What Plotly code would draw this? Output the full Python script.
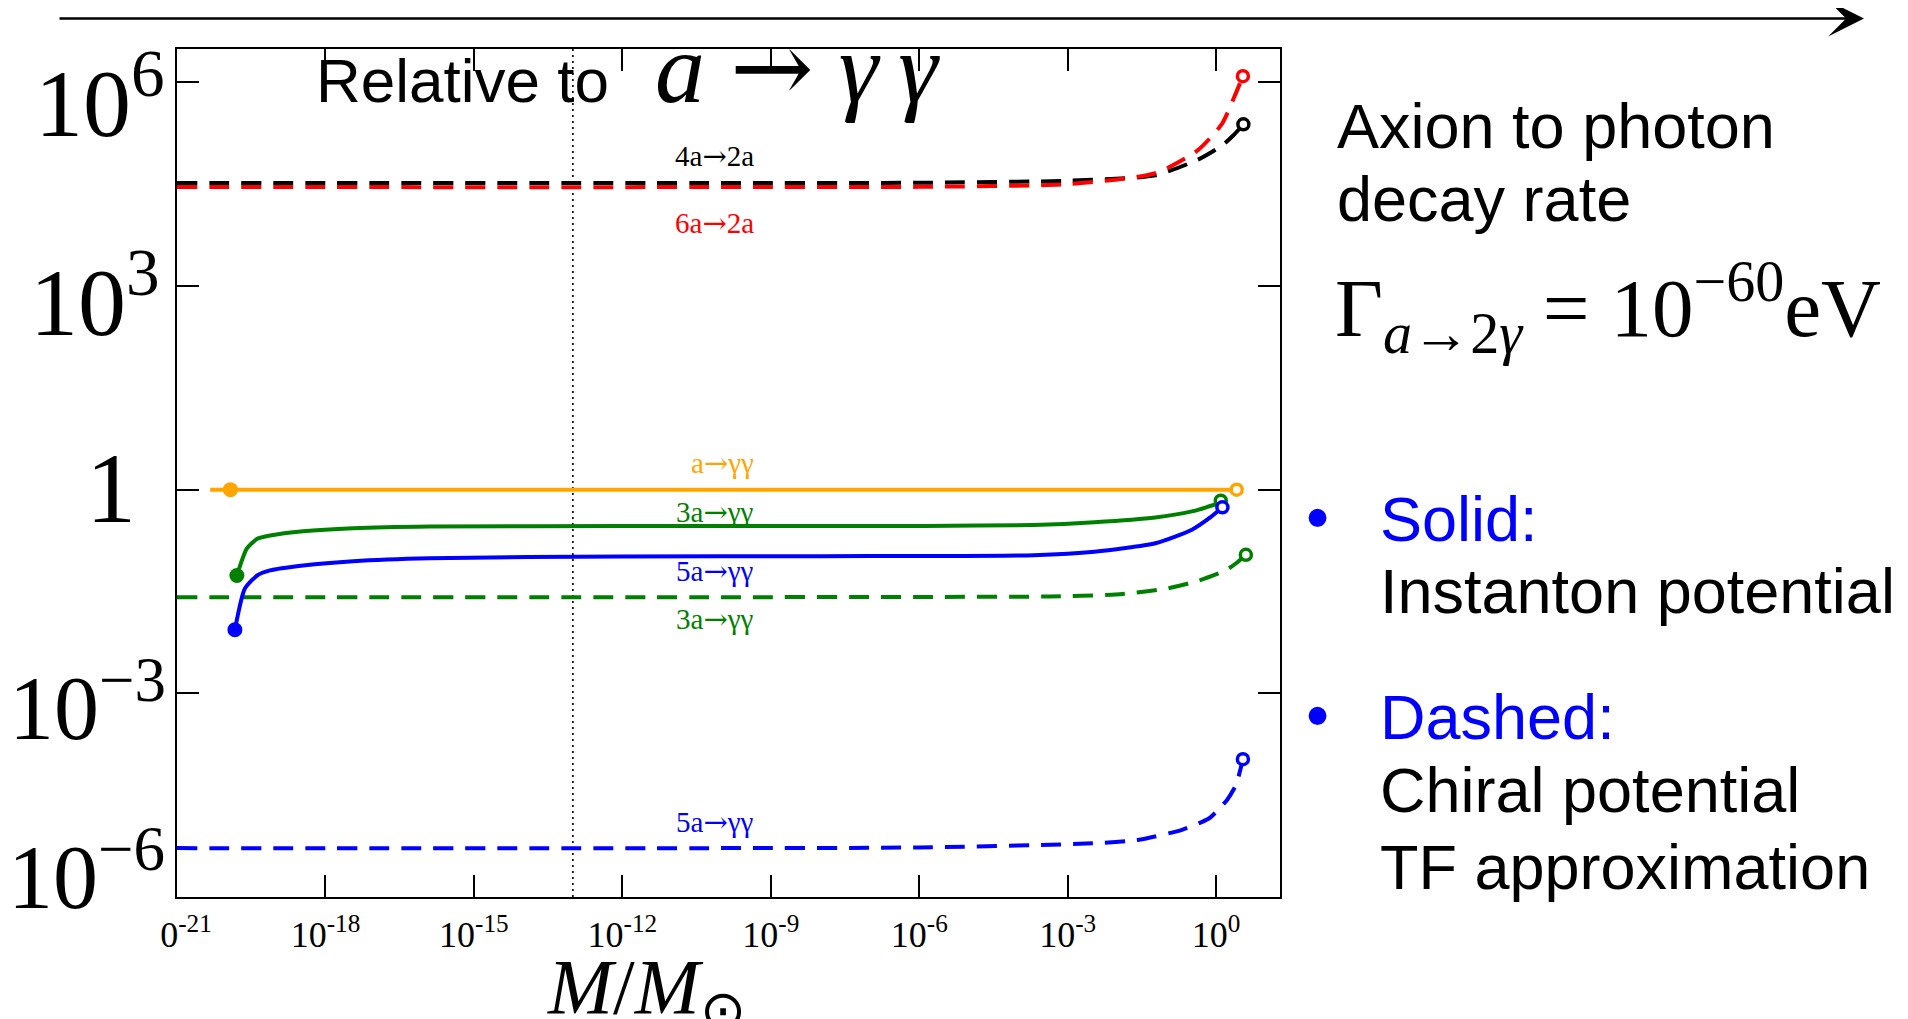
import plotly.graph_objects as go

# ---------------- data (log10 M/Msun, log10 rate relative to a->gg) ----------------
orange_lx = [-20.33, -19.92, -15.0, -10.0, -5.0, 0.415]
orange_ly = [0.0, 0.0, 0.0, 0.0, 0.0, 0.0]

green_solid_lx = [-19.79, -19.59, -19.38, -19.12, -18.45, -17.44, -15.89, -12.0, -8.0, -5.9, -3.69, -2.46, -1.23, -0.49, -0.2, 0.0, 0.093]
green_solid_ly = [-1.265, -0.87, -0.725, -0.676, -0.613, -0.569, -0.544, -0.535, -0.535, -0.535, -0.52, -0.48, -0.41, -0.32, -0.26, -0.21, -0.162]

blue_solid_lx = [-19.83, -19.63, -19.38, -19.12, -18.45, -17.44, -15.89, -12.0, -8.0, -5.9, -3.69, -2.46, -1.23, -0.49, -0.12, 0.126]
blue_solid_ly = [-2.063, -1.46, -1.265, -1.19, -1.118, -1.054, -1.01, -0.985, -0.98, -0.978, -0.965, -0.914, -0.79, -0.59, -0.41, -0.26]

green_dash_lx = [-21.0, -10.0, -6.0, -3.37, -2.03, -1.02, -0.346, 0.19, 0.43, 0.60]
green_dash_ly = [-1.584, -1.584, -1.58, -1.574, -1.544, -1.46, -1.338, -1.19, -1.07, -0.96]

blue_dash_lx = [-21.0, -10.0, -6.0, -2.5, -1.59, -0.69, -0.14, 0.22, 0.40, 0.54]
blue_dash_ly = [-5.28, -5.28, -5.27, -5.21, -5.16, -5.01, -4.84, -4.57, -4.35, -3.97]

black_dash_lx = [-21.0, -10.0, -6.0, -2.95, -1.23, -0.37, 0.12, 0.35, 0.55]
black_dash_ly = [4.515, 4.515, 4.52, 4.55, 4.63, 4.86, 5.07, 5.22, 5.38]

red_dash_lx = [-21.0, -10.0, -6.0, -3.0, -1.23, -0.37, 0.12, 0.37, 0.54]
red_dash_ly = [4.456, 4.456, 4.46, 4.50, 4.66, 5.0, 5.39, 5.79, 6.09]

dotted_lx = -13.0

y_tick_exp = [6, 3, 0, -3, -6]
y_tick_text = ["10<sup>6</sup>", "10<sup>3</sup>", "1", "10<sup>\u22123</sup>", "10<sup>\u22126</sup>"]
x_tick_exp = [-21, -18, -15, -12, -9, -6, -3, 0]
x_tick_text = ["\u20020<sup>-21</sup>", "10<sup>-18</sup>", "10<sup>-15</sup>", "10<sup>-12</sup>",
               "10<sup>-9</sup>", "10<sup>-6</sup>", "10<sup>-3</sup>", "10<sup>0</sup>"]

curve_labels = ["4a\u21922a", "6a\u21922a", "a\u2192\u03b3\u03b3", "3a\u2192\u03b3\u03b3",
                "5a\u2192\u03b3\u03b3", "3a\u2192\u03b3\u03b3", "5a\u2192\u03b3\u03b3"]
curve_label_ly = [4.91, 3.93, 0.39, -0.33, -1.20, -1.90, -4.90]

# ---------------- styling ----------------
W, H = 1908, 1019
BODY = 8                       # default page margin of the html body
PL, PT, PW, PH = 177, 49, 1103, 848   # plot area on the page
L, T = PL - BODY, PT - BODY
R, B = W - L - PW, H - T - PH
ORANGE, GREEN, BLUE, RED, BLACK = "#FFA500", "#008000", "#0000FF", "#FF0000", "#000000"
SERIF = "Liberation Serif"
SANS = "Liberation Sans"
LW = 4
DASH = "20px,12px"
WIDE = "<span style='font-family:DejaVu Serif'>{}</span>"


def px(x):
    return (x - PL) / PW


def py(y):
    return (PT + PH - y) / PH


def tolin(v):
    return [10 ** a for a in v]


fig = go.Figure()


def add_line(lx, ly, color, dash=None, spline=False):
    fig.add_trace(go.Scatter(x=tolin(lx), y=tolin(ly), mode="lines",
                             line=dict(color=color, width=LW, dash=dash or "solid",
                                       shape="spline" if spline else "linear",
                                       smoothing=0.6 if spline else None),
                             hoverinfo="skip", showlegend=False))


def add_ring(lx, ly, color):
    fig.add_trace(go.Scatter(x=tolin([lx]), y=tolin([ly]), mode="markers",
                             marker=dict(size=11, color="white", line=dict(color=color, width=3.5)),
                             hoverinfo="skip", showlegend=False))


def add_dot(lx, ly, color):
    fig.add_trace(go.Scatter(x=tolin([lx]), y=tolin([ly]), mode="markers",
                             marker=dict(size=15, color=color, line=dict(width=0)),
                             hoverinfo="skip", showlegend=False))


# dotted vertical line
fig.add_trace(go.Scatter(x=tolin([dotted_lx, dotted_lx]), y=[1e-6, 10 ** 6.49], mode="lines",
                         line=dict(color="black", width=1.6, dash="2px,4px"),
                         hoverinfo="skip", showlegend=False))

# dashed (chiral) curves
add_line(green_dash_lx, green_dash_ly, GREEN, DASH, True)
add_line(blue_dash_lx, blue_dash_ly, BLUE, DASH, True)
add_line(black_dash_lx, black_dash_ly, BLACK, DASH, True)
add_line(red_dash_lx, red_dash_ly, RED, DASH, True)

# solid (instanton) curves
add_line(orange_lx, orange_ly, ORANGE)
add_line(green_solid_lx, green_solid_ly, GREEN, None, True)
add_line(blue_solid_lx, blue_solid_ly, BLUE, None, True)

# start dots
add_dot(orange_lx[1], orange_ly[1], ORANGE)
add_dot(green_solid_lx[0], green_solid_ly[0], GREEN)
add_dot(blue_solid_lx[0], blue_solid_ly[0], BLUE)

# end rings
add_ring(orange_lx[-1], orange_ly[-1], ORANGE)
add_ring(green_solid_lx[-1], green_solid_ly[-1], GREEN)
add_ring(blue_solid_lx[-1], blue_solid_ly[-1], BLUE)
add_ring(green_dash_lx[-1], green_dash_ly[-1], GREEN)
add_ring(blue_dash_lx[-1], blue_dash_ly[-1], BLUE)
add_ring(black_dash_lx[-1], black_dash_ly[-1], BLACK)
add_ring(red_dash_lx[-1], red_dash_ly[-1], RED)

annotations = []

# curve labels (arrow drawn with a wider serif glyph)
label_colors = [BLACK, RED, ORANGE, GREEN, BLUE, GREEN, BLUE]
for txt, ly, c in zip(curve_labels, curve_label_ly, label_colors):
    styled = txt.replace("\u2192", WIDE.format("\u2192"))
    annotations.append(dict(x=-9.3, y=ly, xref="x", yref="y", text=styled, showarrow=False,
                            xanchor="right", yanchor="middle",
                            font=dict(family=SERIF, size=29, color=c)))

# y tick labels (large LaTeX style)
y_label_right = [167, 162, 138, 168, 167]
y_label_shift = [-14, -10, 1, -8, 27]
y_label_size = [96, 96, 100, 90, 90]
for e, t, xr, ys, sz in zip(y_tick_exp, y_tick_text, y_label_right, y_label_shift, y_label_size):
    annotations.append(dict(x=px(xr), y=e, xref="paper", yref="y", text=t, showarrow=False,
                            xanchor="right", yanchor="middle", yshift=ys,
                            font=dict(family=SERIF, size=sz, color="black")))

# x axis title
annotations.append(dict(x=px(646), y=py(992), xref="paper", yref="paper",
                        text="<i>M</i>/<i>M</i><sub>\u2299</sub>", showarrow=False,
                        xanchor="center", yanchor="middle",
                        font=dict(family=SERIF, size=78, color="black")))

# title inside plot
annotations.append(dict(x=px(314), y=py(80), xref="paper", yref="paper", text="Relative to",
                        showarrow=False, xanchor="left", yanchor="middle",
                        font=dict(family=SANS, size=62, color="black")))
annotations.append(dict(x=px(653), y=py(68), xref="paper", yref="paper",
                        text="<i>a</i> " + WIDE.format("\u2192") + " <i>\u03b3\u2009\u03b3</i>",
                        showarrow=False, xanchor="left", yanchor="middle",
                        font=dict(family=SERIF, size=100, color="black")))

# right-side text
side = [
    ("Axion to photon", 1335, 125.6, SANS, 63, BLACK),
    ("decay rate", 1335, 198.9, SANS, 63, BLACK),
    ("\u0393<sub><i>a</i>\u21922<i>\u03b3</i></sub> = 10<sup>\u221260</sup>eV", 1333, 307.7, SERIF, 83, BLACK),
    ("\u2022", 1304, 517, SANS, 66, BLUE),
    ("Solid:", 1378, 518.5, SANS, 63, BLUE),
    ("Instanton potential", 1378, 591.5, SANS, 63, BLACK),
    ("\u2022", 1304, 715, SANS, 66, BLUE),
    ("Dashed:", 1378, 716.5, SANS, 63, BLUE),
    ("Chiral potential", 1378, 790.2, SANS, 63, BLACK),
    ("TF approximation", 1378, 866.5, SANS, 63, BLACK),
]
for txt, xx, yy, fam, sz, c in side:
    annotations.append(dict(x=px(xx), y=py(yy), xref="paper", yref="paper", text=txt,
                            showarrow=False, xanchor="left", yanchor="middle",
                            font=dict(family=fam, size=sz, color=c)))

# top arrow
annotations.append(dict(x=px(1864), y=py(18.5), xref="paper", yref="paper", text="",
                        showarrow=True, ax=-(1864 - 58), ay=0, axref="pixel", ayref="pixel",
                        arrowhead=3, arrowsize=2.6, arrowwidth=2.3, arrowcolor="black"))

axis_common = dict(type="log", showline=True, linecolor="black", linewidth=2, mirror="ticks",
                   ticks="inside", ticklen=22, tickwidth=1.5, tickcolor="black",
                   showgrid=False, zeroline=False)

fig.update_layout(
    width=W, height=H,
    margin=dict(l=L, r=R, t=T, b=B, autoexpand=False),
    paper_bgcolor="white", plot_bgcolor="white",
    showlegend=False,
    xaxis=dict(range=[-21, 1.29],
               tickvals=[10 ** e for e in x_tick_exp], ticktext=x_tick_text,
               tickfont=dict(family=SERIF, size=36, color="black"),
               ticklabelstandoff=5, **axis_common),
    yaxis=dict(range=[-6, 6.49], tickvals=[10 ** e for e in y_tick_exp],
               showticklabels=False, **axis_common),
    annotations=annotations,
)

fig.write_html("out.html")
